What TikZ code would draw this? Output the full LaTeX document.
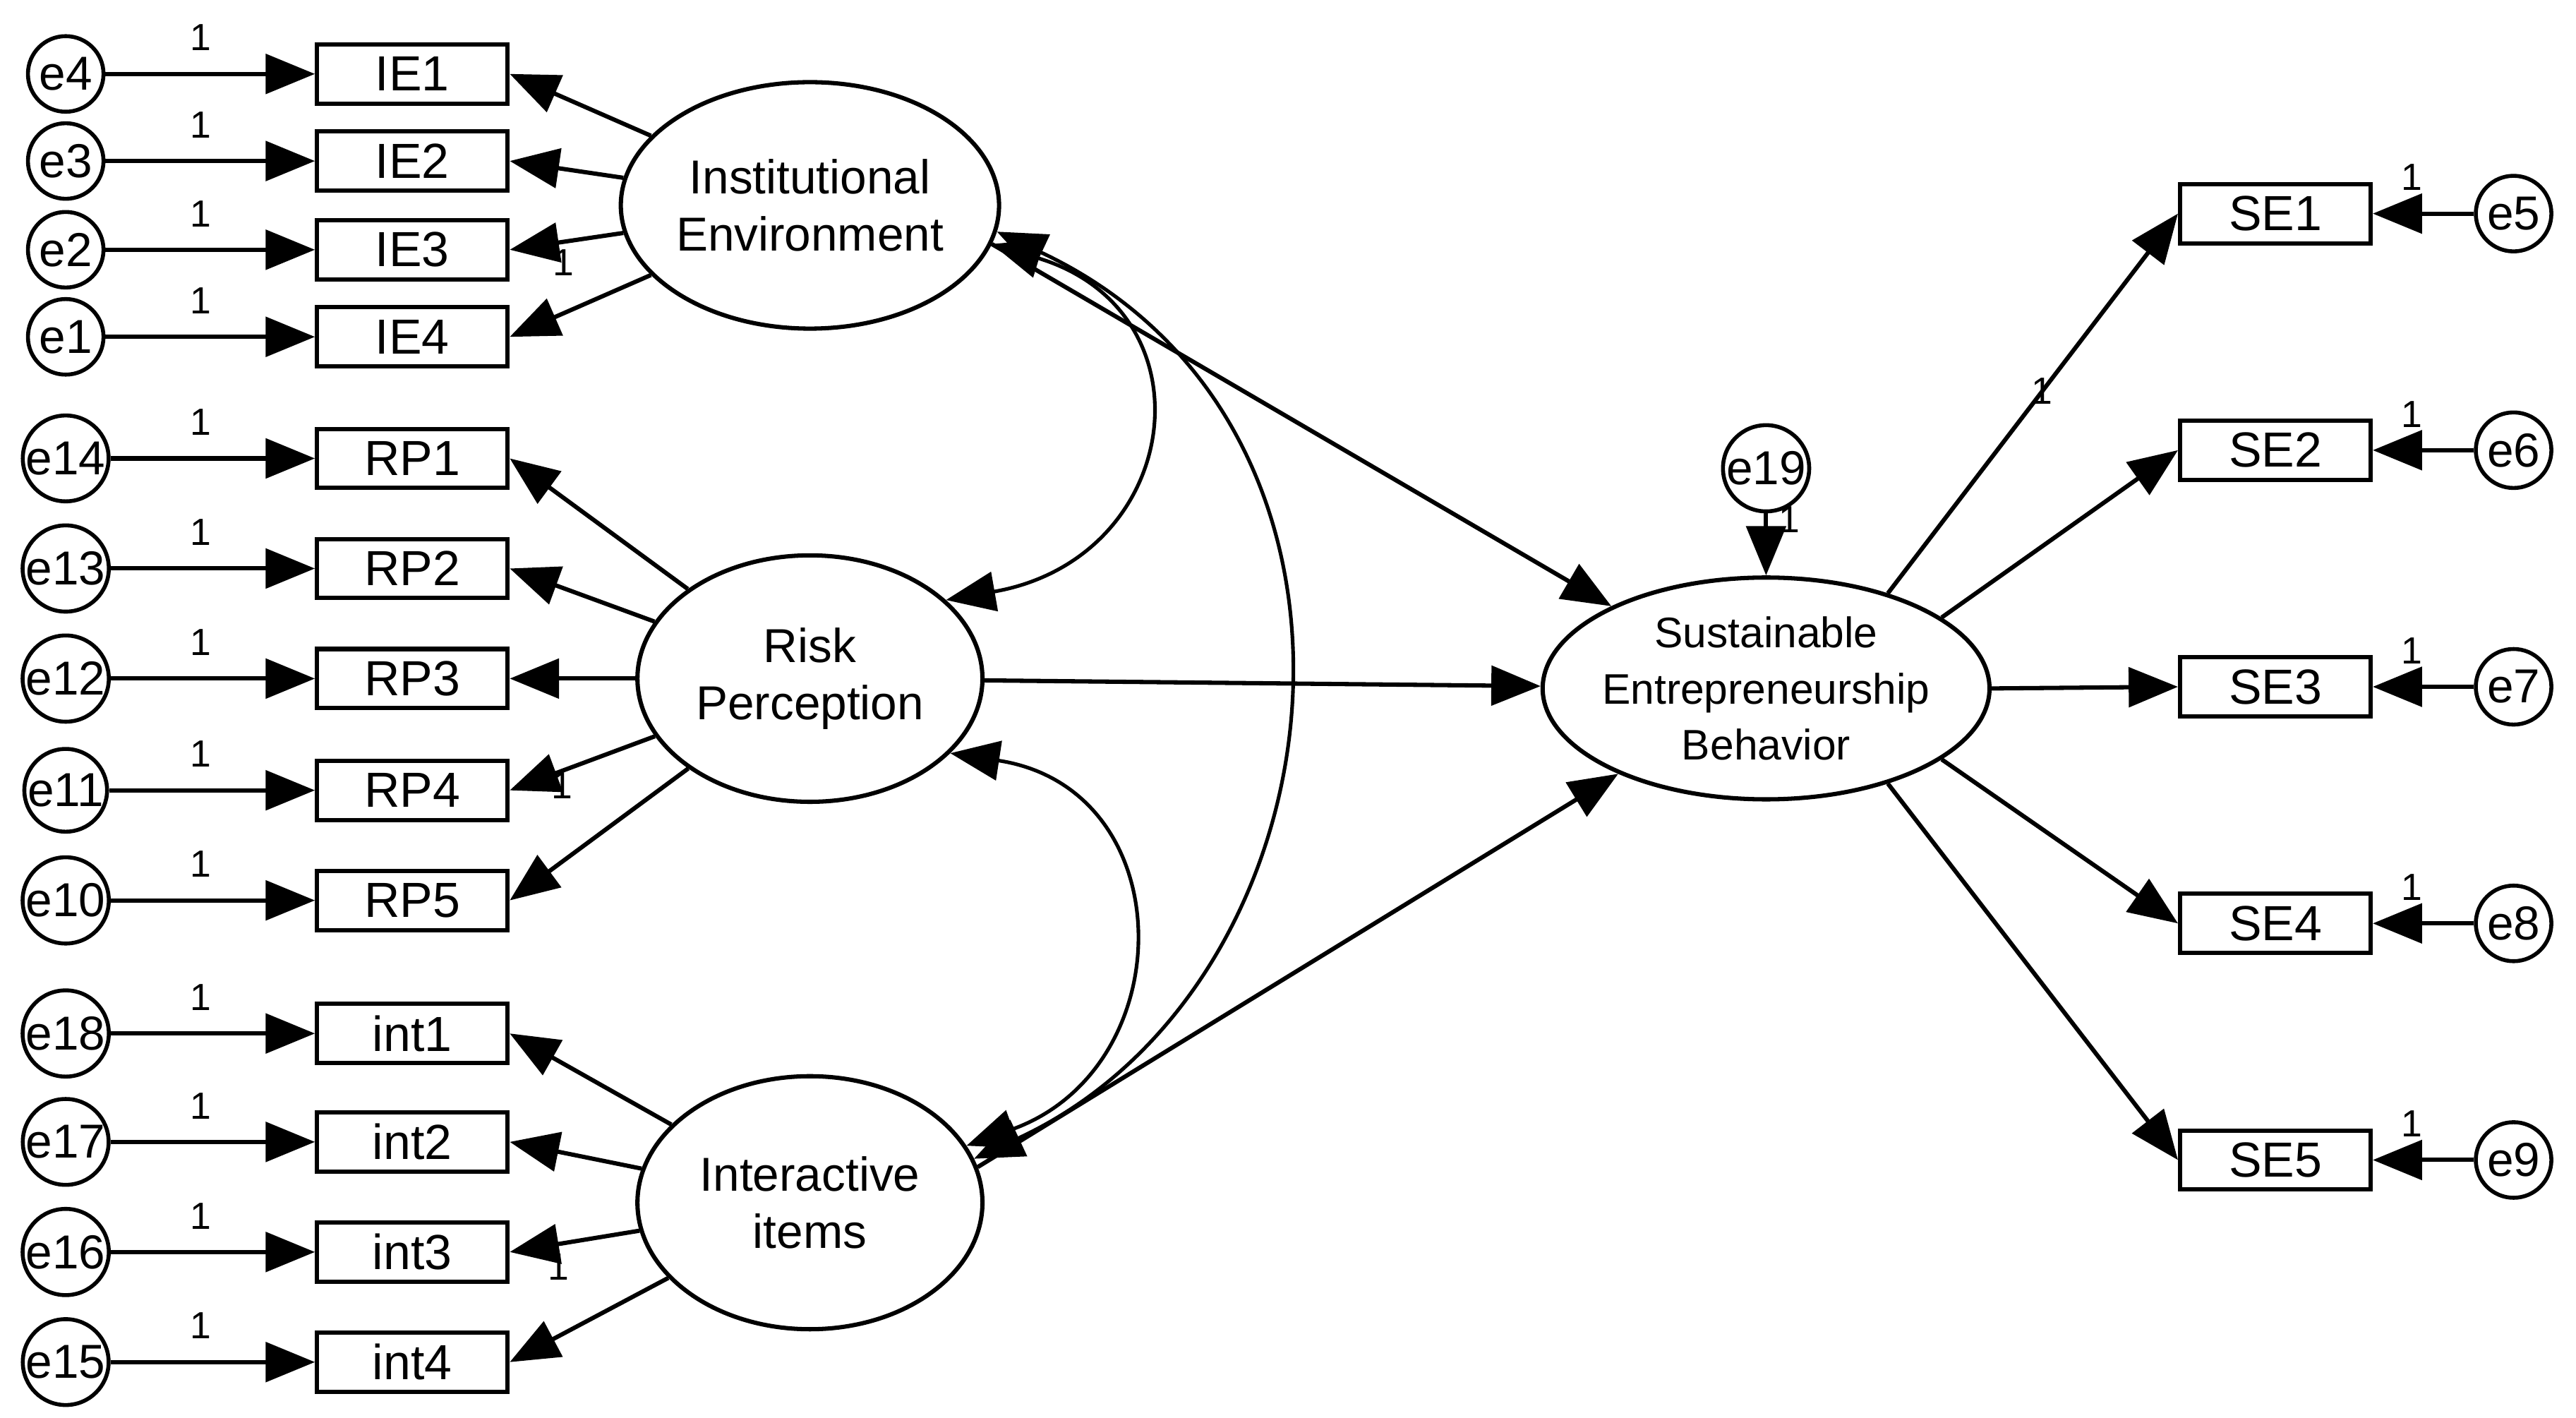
\documentclass[tikz,border=0pt]{standalone}
\usepackage{fontspec}
\setmainfont{Liberation Sans}
\usetikzlibrary{arrows.meta,shapes.geometric}
\begin{document}
\begin{tikzpicture}[x=1pt,y=-1pt,
  arr/.style={line width=2.6pt,-{Triangle[length=30pt,width=24pt]}},
  arr2/.style={line width=2.2pt,{Triangle[length=30pt,width=24pt]}-{Triangle[length=30pt,width=24pt]}},
  obs/.style={draw,line width=2.6pt,minimum width=116pt,minimum height=36pt,inner sep=0pt,font=\fontsize{30}{30}\selectfont},
  err/.style={draw,circle,line width=2.4pt,minimum size=46pt,inner sep=0pt,font=\fontsize{29}{29}\selectfont},
  lat/.style={draw,ellipse,line width=2.6pt,minimum width=210pt,minimum height=150pt,inner sep=0pt,align=center,font=\fontsize{29}{35}\selectfont},
  one/.style={font=\fontsize{23}{23}\selectfont,inner sep=0pt}]
\useasboundingbox (0,0) rectangle (1568,863);
% latent
\node[lat] (IE) at (493,125) {Institutional\\Environment};
\node[lat] (RP) at (493,413) {Risk\\Perception};
\node[lat,minimum height=154pt] (INT) at (493,732) {Interactive\\items};
\node[lat,minimum width=272pt,minimum height=135pt,inner sep=-12pt,font=\fontsize{26}{34}\selectfont] (SEB) at (1075,419) {Sustainable\\Entrepreneurship\\Behavior};
\node[err] (e19) at (1075,285) {e19};
\draw[arr] (e19) -- (SEB);
\node[one] at (1089,316) {1};
% left indicators
\foreach \n/\e/\y in {IE1/e4/45,IE2/e3/98,IE3/e2/152,IE4/e1/205,RP1/e14/279,RP2/e13/346,RP3/e12/413,RP4/e11/481,RP5/e10/548,int1/e18/629,int2/e17/695,int3/e16/762,int4/e15/829}{
  \node[obs] (\n) at (251,\y) {\n};
  \node[err] (\e) at (40,\y) {\e};
  \draw[arr] (\e) -- (\n);
  \node[one] at (122,\y-22) {1};
}
\foreach \n in {IE1,IE2,IE3,IE4}{\draw[arr] (IE) -- (\n.east);}
\foreach \n in {RP1,RP2,RP3,RP4,RP5}{\draw[arr] (RP) -- (\n.east);}
\foreach \n in {int1,int2,int3,int4}{\draw[arr] (INT) -- (\n.east);}
\node[one] at (343,160) {1};
\node[one] at (342,478) {1};
\node[one] at (340,771) {1};
% right indicators
\foreach \n/\e/\y/\a in {SE1/e5/130/38,SE2/e6/274/22,SE3/e7/418/0,SE4/e8/562/-22,SE5/e9/706/-38}{
  \node[obs] (\n) at (1385,\y) {\n};
  \node[err] (\e) at (1530,\y) {\e};
  \draw[arr] (\e) -- (\n);
  \node[one] at (1468,\y-22) {1};
  \draw[arr] (SEB.\a) -- (\n.west);
}
\node[one] at (1243,238) {1};
% structural
\draw[arr] (IE.-12) -- (SEB.152);
\draw[arr] (RP) -- (SEB);
\draw[arr] (INT.12) -- (SEB.-150);
% covariances
\draw[arr2] (IE.-12) .. controls (740,190) and (720,340) .. (RP.30);
\draw[arr2] (RP.-28) .. controls (720,480) and (720,650) .. (INT.20);
\draw[arr2] (IE.-8) .. controls (860,260) and (820,600) .. (INT.15);
\end{tikzpicture}
\end{document}
